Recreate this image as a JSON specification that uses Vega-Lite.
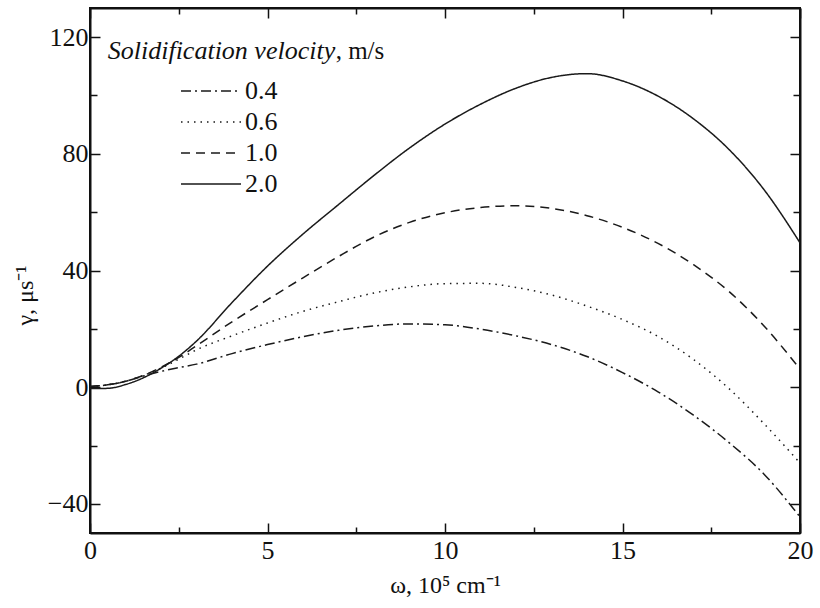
{
  "$schema": "https://vega.github.io/schema/vega-lite/v6.json",
  "width": 710,
  "height": 525,
  "autosize": {"type": "none"},
  "padding": {"left": 90, "top": 8, "right": 20, "bottom": 75},
  "background": "white",
  "config": {
    "view": {"stroke": "#111", "strokeWidth": 2},
    "font": "Liberation Serif, Times New Roman, serif",
    "axis": {
      "labelFont": "Liberation Serif, Times New Roman, serif",
      "labelFontSize": 26,
      "labelColor": "#111",
      "titleFont": "Liberation Serif, Times New Roman, serif",
      "titleFontSize": 24,
      "titleFontWeight": "normal",
      "titleColor": "#111",
      "domainColor": "#111",
      "domainWidth": 2,
      "tickColor": "#111",
      "tickWidth": 1.5,
      "grid": false
    },
    "legend": {
      "labelFont": "Liberation Serif, Times New Roman, serif",
      "labelFontSize": 26,
      "labelColor": "#111"
    }
  },
  "layer": [
    {
      "data": {
        "values": [
          {"v": "2.0", "x": 0, "y": -0.5}, {"v": "2.0", "x": 0.5, "y": -0.4}, {"v": "2.0", "x": 1, "y": 0.9}, {"v": "2.0", "x": 1.5, "y": 3.2}, {"v": "2.0", "x": 2, "y": 6.5}, {"v": "2.0", "x": 2.5, "y": 10.6}, {"v": "2.0", "x": 3, "y": 15.8}, {"v": "2.0", "x": 4, "y": 29.0}, {"v": "2.0", "x": 5, "y": 41.5}, {"v": "2.0", "x": 6, "y": 52.5}, {"v": "2.0", "x": 7, "y": 62.6}, {"v": "2.0", "x": 8, "y": 72.6}, {"v": "2.0", "x": 9, "y": 82.0}, {"v": "2.0", "x": 10, "y": 90.2}, {"v": "2.0", "x": 11, "y": 97.0}, {"v": "2.0", "x": 12, "y": 102.5}, {"v": "2.0", "x": 13, "y": 106.2}, {"v": "2.0", "x": 14, "y": 107.5}, {"v": "2.0", "x": 15, "y": 105.0}, {"v": "2.0", "x": 16, "y": 99.8}, {"v": "2.0", "x": 17, "y": 92.0}, {"v": "2.0", "x": 18, "y": 81.5}, {"v": "2.0", "x": 19, "y": 67.5}, {"v": "2.0", "x": 20, "y": 49.5},
          {"v": "1.0", "x": 0, "y": 0.2}, {"v": "1.0", "x": 0.5, "y": 0.8}, {"v": "1.0", "x": 1, "y": 2.0}, {"v": "1.0", "x": 1.5, "y": 4.0}, {"v": "1.0", "x": 2, "y": 6.8}, {"v": "1.0", "x": 2.5, "y": 10.2}, {"v": "1.0", "x": 3, "y": 14.2}, {"v": "1.0", "x": 4, "y": 22.4}, {"v": "1.0", "x": 5, "y": 30.0}, {"v": "1.0", "x": 6, "y": 37.5}, {"v": "1.0", "x": 7, "y": 44.8}, {"v": "1.0", "x": 8, "y": 51.5}, {"v": "1.0", "x": 9, "y": 56.5}, {"v": "1.0", "x": 10, "y": 59.8}, {"v": "1.0", "x": 11, "y": 61.6}, {"v": "1.0", "x": 12, "y": 62.2}, {"v": "1.0", "x": 13, "y": 61.3}, {"v": "1.0", "x": 14, "y": 58.8}, {"v": "1.0", "x": 15, "y": 54.8}, {"v": "1.0", "x": 16, "y": 49.3}, {"v": "1.0", "x": 17, "y": 42.0}, {"v": "1.0", "x": 18, "y": 32.8}, {"v": "1.0", "x": 19, "y": 20.8}, {"v": "1.0", "x": 20, "y": 6.2},
          {"v": "0.6", "x": 0, "y": 0.2}, {"v": "0.6", "x": 0.5, "y": 0.8}, {"v": "0.6", "x": 1, "y": 2.0}, {"v": "0.6", "x": 1.5, "y": 4.0}, {"v": "0.6", "x": 2, "y": 6.5}, {"v": "0.6", "x": 2.5, "y": 9.6}, {"v": "0.6", "x": 3, "y": 12.8}, {"v": "0.6", "x": 4, "y": 17.6}, {"v": "0.6", "x": 5, "y": 22.0}, {"v": "0.6", "x": 6, "y": 26.0}, {"v": "0.6", "x": 7, "y": 29.3}, {"v": "0.6", "x": 8, "y": 32.3}, {"v": "0.6", "x": 9, "y": 34.4}, {"v": "0.6", "x": 10, "y": 35.5}, {"v": "0.6", "x": 11, "y": 35.6}, {"v": "0.6", "x": 12, "y": 34.2}, {"v": "0.6", "x": 13, "y": 31.6}, {"v": "0.6", "x": 14, "y": 27.8}, {"v": "0.6", "x": 15, "y": 23.2}, {"v": "0.6", "x": 16, "y": 17.4}, {"v": "0.6", "x": 17, "y": 9.5}, {"v": "0.6", "x": 18, "y": -0.5}, {"v": "0.6", "x": 19, "y": -12.7}, {"v": "0.6", "x": 20, "y": -26.0},
          {"v": "0.4", "x": 0, "y": 0.2}, {"v": "0.4", "x": 0.5, "y": 0.8}, {"v": "0.4", "x": 1, "y": 2.0}, {"v": "0.4", "x": 1.5, "y": 3.8}, {"v": "0.4", "x": 2, "y": 5.4}, {"v": "0.4", "x": 2.5, "y": 6.7}, {"v": "0.4", "x": 3, "y": 7.9}, {"v": "0.4", "x": 4, "y": 11.5}, {"v": "0.4", "x": 5, "y": 14.6}, {"v": "0.4", "x": 6, "y": 17.3}, {"v": "0.4", "x": 7, "y": 19.5}, {"v": "0.4", "x": 8, "y": 21.0}, {"v": "0.4", "x": 9, "y": 21.7}, {"v": "0.4", "x": 10, "y": 21.4}, {"v": "0.4", "x": 11, "y": 19.9}, {"v": "0.4", "x": 12, "y": 17.6}, {"v": "0.4", "x": 13, "y": 14.6}, {"v": "0.4", "x": 14, "y": 10.5}, {"v": "0.4", "x": 15, "y": 5.0}, {"v": "0.4", "x": 16, "y": -1.6}, {"v": "0.4", "x": 17, "y": -9.6}, {"v": "0.4", "x": 18, "y": -19.0}, {"v": "0.4", "x": 19, "y": -30.0}, {"v": "0.4", "x": 20, "y": -44.5}
        ]
      },
      "mark": {"type": "line", "interpolate": "monotone", "color": "#1a1a1a", "strokeWidth": 1.5, "clip": true},
      "encoding": {
        "x": {
          "field": "x", "type": "quantitative",
          "scale": {"domain": [0, 20], "nice": false, "zero": false},
          "axis": {
            "orient": "bottom",
            "values": [0, 2.5, 5, 7.5, 10, 12.5, 15, 17.5, 20],
            "labelExpr": "datum.value % 5 === 0 ? datum.label : ''",
            "tickSize": {"condition": {"test": "datum.value % 5 === 0", "value": -10}, "value": -6},
            "labelPadding": 14,
            "labelFlush": false,
            "title": "ω, 10⁵ cm⁻¹",
            "titlePadding": 10
          }
        },
        "y": {
          "field": "y", "type": "quantitative",
          "scale": {"domain": [-50, 130], "nice": false, "zero": false},
          "axis": {
            "orient": "left",
            "values": [-40, -20, 0, 20, 40, 60, 80, 100, 120],
            "labelExpr": "datum.value % 40 === 0 ? datum.label : ''",
            "tickSize": {"condition": {"test": "datum.value % 40 === 0", "value": -10}, "value": -7},
            "labelPadding": 12,
            "labelFlush": false,
            "title": "γ, μs⁻¹",
            "titlePadding": 10,
            "titleY": 287
          }
        },
        "strokeDash": {
          "field": "v", "type": "nominal",
          "scale": {"domain": ["0.4", "0.6", "1.0", "2.0"], "range": [[10, 4, 2, 4], [1.5, 5], [9, 6], [1, 0]]},
          "legend": {
            "title": null,
            "orient": "none",
            "legendX": 78,
            "legendY": 70,
            "symbolType": "M0,0H6",
            "symbolSize": 400,
            "symbolStrokeWidth": 1.5,
            "symbolStrokeColor": "#1a1a1a",
            "labelOffset": 51,
            "rowPadding": 5,
            "padding": 0
          }
        }
      }
    },
    {
      "data": {"values": [{"t": "Solidification velocity", "x": 0.5, "y": 112.5}]},
      "mark": {"type": "text", "fontStyle": "italic", "fontSize": 26, "font": "Liberation Serif, Times New Roman, serif", "align": "left", "baseline": "alphabetic", "color": "#111"},
      "encoding": {
        "x": {
          "field": "x", "type": "quantitative",
          "axis": {
            "orient": "top",
            "values": [0, 2.5, 5, 7.5, 10, 12.5, 15, 17.5, 20],
            "labels": false,
            "tickSize": {"condition": {"test": "datum.value % 5 === 0", "value": -10}, "value": -6},
            "title": null
          }
        },
        "y": {
          "field": "y", "type": "quantitative",
          "axis": {
            "orient": "right",
            "values": [-40, -20, 0, 20, 40, 60, 80, 100, 120],
            "labels": false,
            "tickSize": {"condition": {"test": "datum.value % 40 === 0", "value": -10}, "value": -7},
            "title": null
          }
        },
        "text": {"field": "t"}
      }
    },
    {
      "data": {"values": [{"t": ", m/s", "x": 6.92, "y": 112.5}]},
      "mark": {"type": "text", "fontSize": 25, "font": "Liberation Serif, Times New Roman, serif", "align": "left", "baseline": "alphabetic", "color": "#111"},
      "encoding": {
        "x": {"field": "x", "type": "quantitative", "axis": null},
        "y": {"field": "y", "type": "quantitative", "axis": null},
        "text": {"field": "t"}
      }
    }
  ],
  "resolve": {"axis": {"x": "independent", "y": "independent"}}
}
